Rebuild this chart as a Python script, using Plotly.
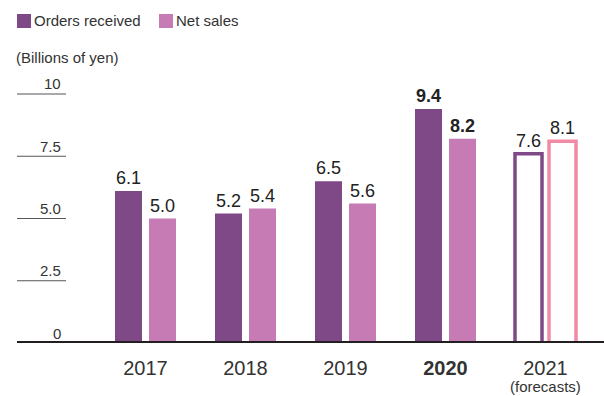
import plotly.graph_objects as go

# Fiscal years and values (billions of yen)
years = ["2017", "2018", "2019", "2020", "2021"]
orders_received = [6.1, 5.2, 6.5, 9.4, 7.6]
net_sales = [5.0, 5.4, 5.6, 8.2, 8.1]
y_ticks = [0, 2.5, 5.0, 7.5, 10]
y_tick_labels = ["0", "2.5", "5.0", "7.5", "10"]
x_tick_labels = ["2017", "2018", "2019", "<b>2020</b>", "2021"]
forecast_note = "(forecasts)"
highlight_year = "2020"
forecast_year = "2021"

PURPLE = "#7f4887"
PINK = "#c77bb4"
FORECAST_PINK = "#f38aa3"
TEXT = "#333333"
FONT = "Liberation Sans, Arial, sans-serif"

W, H = 604, 396
L, R, T, B = 17, 0, 80, 53
PW, PH = W - L - R, H - T - B


def px_x(x):
    return (x - L) / PW


def px_y(y):
    return (H - B - y) / PH


def labels(vals):
    out = []
    for yr, v in zip(years, vals):
        s = f"{v:.1f}"
        out.append(f"<b>{s}</b>" if yr == highlight_year else s)
    return out


def bar_style(color, forecast_color):
    fills = ["white" if yr == forecast_year else color for yr in years]
    lines = [forecast_color if yr == forecast_year else color for yr in years]
    widths = [3.5 if yr == forecast_year else 0 for yr in years]
    return dict(color=fills, line=dict(color=lines, width=widths))


xs = list(range(len(years)))
fig = go.Figure()
fig.add_trace(go.Bar(
    x=xs, y=orders_received, name="Orders received",
    width=0.27, offset=-0.305,
    marker=bar_style(PURPLE, PURPLE),
    text=labels(orders_received), textposition="outside",
    textfont=dict(size=18, color="#222222", family=FONT),
    constraintext="none", cliponaxis=False,
))
fig.add_trace(go.Bar(
    x=xs, y=net_sales, name="Net sales",
    width=0.27, offset=0.035,
    marker=bar_style(PINK, FORECAST_PINK),
    text=labels(net_sales), textposition="outside",
    textfont=dict(size=18, color="#222222", family=FONT),
    constraintext="none", cliponaxis=False,
))

shapes = []
annotations = []

# Short rules under each value label on the left
for v, lab in zip(y_ticks, y_tick_labels):
    if v != 0:
        shapes.append(dict(type="line", xref="paper", yref="y",
                           x0=px_x(17), x1=px_x(66), y0=v, y1=v,
                           line=dict(color="#555555", width=1.2)))
    annotations.append(dict(xref="paper", yref="y", x=px_x(63), y=v,
                            xanchor="right", yanchor="middle", yshift=10,
                            text=lab, showarrow=False,
                            font=dict(size=15, color=TEXT, family=FONT)))

# Baseline
shapes.append(dict(type="line", xref="paper", yref="y", x0=0, x1=1, y0=0, y1=0,
                   line=dict(color="#231f20", width=4), layer="above"))

# Note under the forecast year
annotations.append(dict(xref="x", yref="paper", x=years.index(forecast_year),
                        y=px_y(386), xanchor="center", yanchor="middle",
                        text=forecast_note, showarrow=False,
                        font=dict(size=15, color=TEXT, family=FONT)))

# Legend
for (x0, color, name) in [(17, PURPLE, "Orders received"), (159, PINK, "Net sales")]:
    shapes.append(dict(type="rect", xref="paper", yref="paper",
                       x0=px_x(x0), x1=px_x(x0 + 14), y0=px_y(28), y1=px_y(14),
                       fillcolor=color, line=dict(width=0)))
    annotations.append(dict(xref="paper", yref="paper", x=px_x(x0 + 15), y=px_y(21),
                            xanchor="left", yanchor="middle", text=name,
                            showarrow=False,
                            font=dict(size=15, color=TEXT, family=FONT)))

annotations.append(dict(xref="paper", yref="paper", x=px_x(14), y=px_y(58),
                        xanchor="left", yanchor="middle", text="(Billions of yen)",
                        showarrow=False, font=dict(size=15, color=TEXT, family=FONT)))

fig.update_layout(
    width=W, height=H,
    margin=dict(l=L, r=R, t=T, b=B, autoexpand=False),
    paper_bgcolor="white", plot_bgcolor="white",
    showlegend=False,
    barmode="group",
    font=dict(family=FONT, color=TEXT),
    shapes=shapes, annotations=annotations,
    xaxis=dict(range=[-1.285, 4.585], tickvals=xs, ticktext=x_tick_labels,
               showgrid=False, zeroline=False, showline=False, automargin=False,
               ticks="outside", ticklen=7, tickcolor="rgba(0,0,0,0)",
               tickfont=dict(size=20, color=TEXT, family=FONT)),
    yaxis=dict(range=[0, 10.562], showgrid=False, zeroline=False,
               showticklabels=False, showline=False, automargin=False),
)

fig.write_html("out.html")
